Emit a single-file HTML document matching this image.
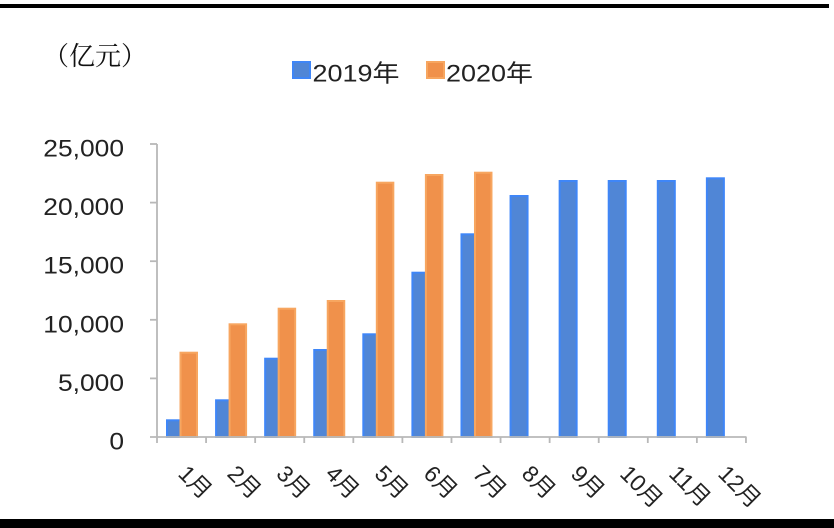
<!DOCTYPE html>
<html>
<head>
<meta charset="utf-8">
<style>
html,body{margin:0;padding:0;background:#fff;}
body{width:834px;height:528px;overflow:hidden;position:relative;}
svg{position:absolute;left:0;top:0;}
</style>
</head>
<body>
<svg width="834" height="528" viewBox="0 0 834 528" xmlns="http://www.w3.org/2000/svg">
  <rect x="0" y="0" width="834" height="528" fill="#fff"/>
  <!-- borders -->
  <rect x="0" y="4" width="829" height="4" fill="#000"/>
  <rect x="0" y="519" width="834" height="9" fill="#000"/>

  <!-- title -->
  <text x="43" y="65" font-family="'Noto Serif CJK SC','Noto Sans CJK SC',serif" font-size="26" fill="#111">（亿元）</text>

  <!-- legend -->
  <rect x="293" y="62" width="17" height="16" fill="#5086d6" stroke="#3f86f7" stroke-width="2"/>
  <text x="312.5" y="81.5" font-family="'Liberation Sans','Noto Sans CJK SC',sans-serif" font-size="24" fill="#222" textLength="87" lengthAdjust="spacingAndGlyphs">2019年</text>
  <rect x="427" y="62" width="17" height="16" fill="#f0914b" stroke="#f7a660" stroke-width="2"/>
  <text x="446" y="81.5" font-family="'Liberation Sans','Noto Sans CJK SC',sans-serif" font-size="24" fill="#222" textLength="87" lengthAdjust="spacingAndGlyphs">2020年</text>

  <!-- y labels -->
  <g transform="translate(124,0) scale(1.1,1)" font-family="'Liberation Sans',sans-serif" font-size="24" fill="#222" text-anchor="end">
    <text x="0" y="156.5">25,000</text>
    <text x="0" y="215.1">20,000</text>
    <text x="0" y="273.7">15,000</text>
    <text x="0" y="332.3">10,000</text>
    <text x="0" y="390.9">5,000</text>
    <text x="0" y="449.5">0</text>
  </g>

  <!-- bars blue -->
  <g fill="#5086d6" stroke="#3f86f7" stroke-width="2">
    <rect x="167" y="420.3" width="17" height="16.7"/>
    <rect x="216.08" y="400.3" width="17" height="36.7"/>
    <rect x="265.16" y="358.7" width="17" height="78.3"/>
    <rect x="314.24" y="350" width="17" height="87"/>
    <rect x="363.32" y="334.3" width="17" height="102.7"/>
    <rect x="412.4" y="272.7" width="17" height="164.3"/>
    <rect x="461.48" y="234.3" width="17" height="202.7"/>
    <rect x="510.56" y="196" width="17" height="241"/>
    <rect x="559.64" y="181" width="17" height="256"/>
    <rect x="608.72" y="181" width="17" height="256"/>
    <rect x="657.8" y="181" width="17" height="256"/>
    <rect x="706.88" y="178.3" width="17" height="258.7"/>
  </g>
  <!-- bars orange -->
  <g fill="#f0914b" stroke="#f7a660" stroke-width="2">
    <rect x="180.5" y="352.7" width="16.5" height="84.3"/>
    <rect x="229.58" y="324.3" width="16.5" height="112.7"/>
    <rect x="278.66" y="308.7" width="16.5" height="128.3"/>
    <rect x="327.74" y="301" width="16.5" height="136"/>
    <rect x="376.82" y="182.7" width="16.5" height="254.3"/>
    <rect x="425.9" y="175" width="16.5" height="262"/>
    <rect x="474.98" y="172.7" width="16.5" height="264.3"/>
  </g>

  <!-- axes -->
  <g stroke="#b8b8b8" stroke-width="1.8" fill="none">
    <line x1="157" y1="144" x2="157" y2="437"/>
    <line x1="150" y1="437" x2="746.5" y2="437"/>
    <line x1="150" y1="144" x2="157" y2="144"/>
    <line x1="150" y1="202.6" x2="157" y2="202.6"/>
    <line x1="150" y1="261.2" x2="157" y2="261.2"/>
    <line x1="150" y1="319.8" x2="157" y2="319.8"/>
    <line x1="150" y1="378.4" x2="157" y2="378.4"/>
    <line x1="157" y1="437" x2="157" y2="443"/>
    <line x1="206.08" y1="437" x2="206.08" y2="443"/>
    <line x1="255.16" y1="437" x2="255.16" y2="443"/>
    <line x1="304.24" y1="437" x2="304.24" y2="443"/>
    <line x1="353.32" y1="437" x2="353.32" y2="443"/>
    <line x1="402.4" y1="437" x2="402.4" y2="443"/>
    <line x1="451.48" y1="437" x2="451.48" y2="443"/>
    <line x1="500.56" y1="437" x2="500.56" y2="443"/>
    <line x1="549.64" y1="437" x2="549.64" y2="443"/>
    <line x1="598.72" y1="437" x2="598.72" y2="443"/>
    <line x1="647.8" y1="437" x2="647.8" y2="443"/>
    <line x1="696.88" y1="437" x2="696.88" y2="443"/>
    <line x1="745.96" y1="437" x2="745.96" y2="443"/>
  </g>

  <!-- x labels -->
  <g font-family="'Liberation Sans','Noto Sans CJK SC',sans-serif" font-size="23" fill="#222">
    <text transform="translate(177,475) rotate(45)">1月</text>
    <text transform="translate(226.08,475) rotate(45)">2月</text>
    <text transform="translate(275.16,475) rotate(45)">3月</text>
    <text transform="translate(324.24,475) rotate(45)">4月</text>
    <text transform="translate(373.32,475) rotate(45)">5月</text>
    <text transform="translate(422.4,475) rotate(45)">6月</text>
    <text transform="translate(471.48,475) rotate(45)">7月</text>
    <text transform="translate(520.56,475) rotate(45)">8月</text>
    <text transform="translate(569.64,475) rotate(45)">9月</text>
    <text transform="translate(618.72,475) rotate(45)">10月</text>
    <text transform="translate(667.8,475) rotate(45)">11月</text>
    <text transform="translate(716.88,475) rotate(45)">12月</text>
  </g>
</svg>
</body>
</html>
